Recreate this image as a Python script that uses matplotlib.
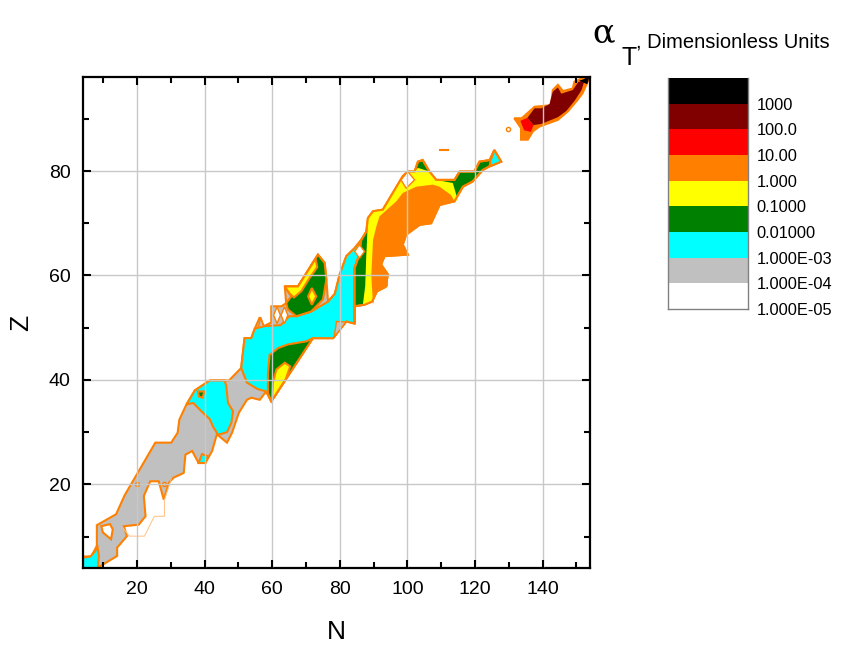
import matplotlib
matplotlib.use("Agg")
import matplotlib.pyplot as plt
import numpy as np

plt.rcParams["font.family"] = ["Liberation Sans", "DejaVu Sans"]

# --------------------------------------------------------------------
# Levels of alpha_T (colour bands, bottom -> top)
# --------------------------------------------------------------------
level_labels = ["1.000E-05", "1.000E-04", "1.000E-03", "0.01000", "0.1000",
                "1.000", "10.00", "100.0", "1000"]
band_colors = ["#ffffff", "#c0c0c0", "#00ffff", "#008000", "#ffff00",
               "#ff8000", "#ff0000", "#800000", "#000000"]
LINE = "#ff8000"

# --------------------------------------------------------------------
# Contour regions, (N, Z) vertices
# --------------------------------------------------------------------
band_lower = [(4.0, 4.0), (8.7, 4.2), (14.1, 6.3), (14.1, 7.9), (17.0, 10.1), (16.1, 12.0),
              (20.5, 12.3), (22.5, 13.9), (22.0, 17.8), (23.9, 20.6), (26.4, 20.6), (27.9, 17.1),
              (29.4, 20.3), (30.8, 21.3), (33.8, 22.2), (34.3, 25.7), (36.3, 26.4), (38.2, 24.1),
              (40.2, 24.1), (42.2, 26.4), (43.6, 29.6), (46.6, 28.0), (48.1, 29.9), (50.1, 33.7),
              (52.5, 36.2), (53.8, 36.6), (56.3, 36.2), (58.2, 37.8), (59.7, 35.9), (72.0, 48.0),
              (78.0, 48.0), (81.9, 51.2), (84.3, 50.8), (84.3, 61.4), (86.3, 66.8), (84.3, 65.2),
              (81.9, 63.7), (79.9, 60.1), (78.5, 56.5), (76.5, 55.0), (76.0, 59.2), (75.5, 62.4),
              (73.5, 64.0), (67.6, 57.9), (63.7, 57.9), (64.1, 54.7), (62.7, 54.1), (59.7, 54.1),
              (59.7, 51.0), (57.5, 50.3), (56.3, 52.0), (54.8, 49.8), (53.8, 48.0), (51.8, 48.0),
              (50.8, 42.3), (47.2, 39.9), (41.5, 39.9), (37.1, 38.0), (34.6, 35.3), (32.5, 32.4),
              (32.0, 29.9), (30.1, 28.0), (25.4, 28.0), (16.3, 17.9), (13.8, 14.3), (8.1, 12.2),
              (8.1, 8.2), (6.4, 6.2), (4.0, 6.2)]
hole_low = [(9.4, 12.0), (12.0, 12.4), (12.8, 11.4), (12.3, 9.5), (9.9, 10.8)]

cyan_corner = [(4.0, 4.0), (4.0, 6.0), (6.2, 6.2), (7.7, 7.3), (8.2, 8.4), (8.7, 6.3), (8.4, 4.0)]
cyan_spot = [(38.2, 24.1), (40.2, 24.1), (41.0, 25.4), (39.2, 25.8)]
cyan_blob = [(34.6, 35.3), (37.1, 38.0), (41.5, 39.9), (45.9, 39.9), (46.4, 38.8), (46.9, 35.6),
             (48.4, 34.0), (47.9, 31.8), (46.6, 30.0), (44.0, 29.5), (42.5, 31.0), (41.5, 32.5),
             (39.5, 33.7), (36.6, 35.6)]
cyan_main = [(50.8, 42.3), (51.8, 48.0), (53.8, 48.0), (54.8, 49.8), (57.5, 50.3), (62.5, 50.5),
             (65.0, 52.2), (67.1, 52.2), (71.5, 53.1), (76.5, 55.0), (78.5, 56.5), (79.9, 60.1),
             (81.9, 63.7), (84.3, 65.2), (86.3, 66.8), (85.5, 63.5), (84.3, 61.4), (84.3, 50.8),
             (81.9, 51.2), (78.0, 48.0), (72.0, 48.0), (59.7, 35.9), (58.2, 37.8), (55.5, 38.3),
             (52.5, 39.5)]
gray_bits = [[(55.9, 50.1), (56.6, 52.0), (57.4, 50.2)],
             [(78.3, 48.2), (81.8, 51.1), (79.0, 51.2)]]
white_bits = [[(60.4, 52.4), (61.4, 54.0), (62.4, 52.4), (61.4, 50.8)],
              [(62.6, 52.4), (63.6, 54.0), (64.6, 52.4), (63.6, 50.8)]]

green_dot = [(38.0, 37.8), (40.0, 37.8), (39.3, 36.6), (38.3, 36.8)]
green_cres_low = [(58.7, 37.5), (58.7, 41.3), (59.2, 44.8), (61.7, 46.1), (64.6, 46.8),
                  (70.1, 47.4), (72.0, 48.0), (59.7, 35.9)]
yellow_cres_low = [(59.9, 36.1), (60.2, 39.5), (61.2, 42.0), (63.7, 43.3), (65.3, 42.6), (64.0, 40.2)]
green_cres_up = [(63.7, 57.9), (67.6, 57.9), (73.5, 64.0), (75.5, 62.4), (76.0, 59.2), (75.0, 55.4),
                 (71.5, 53.1), (67.1, 52.2), (64.6, 53.5), (64.1, 54.7), (65.6, 56.0)]
yellow_wing = [(63.7, 57.9), (67.6, 57.9), (72.8, 63.2), (73.3, 61.6), (71.0, 59.5), (68.6, 57.0),
               (66.4, 55.8), (65.2, 56.5)]
yellow_diamond = [(70.6, 56.0), (71.7, 57.6), (73.0, 56.0), (71.7, 54.4)]

green_band = [(84.3, 50.8), (84.3, 54.1), (87.3, 54.4), (89.5, 55.0), (91.0, 57.0), (93.5, 57.8),
              (94.2, 60.2), (92.2, 62.1), (93.2, 63.7), (100.1, 64.0), (98.6, 65.9), (99.6, 67.8),
              (103.6, 69.7), (107.0, 70.0), (109.5, 73.5), (113.9, 74.2), (116.4, 77.0),
              (119.3, 78.0), (122.3, 80.2), (124.3, 80.9), (127.7, 81.8), (125.7, 84.0),
              (124.3, 82.1), (121.3, 81.8), (119.8, 79.9), (115.4, 79.9), (113.9, 78.3),
              (108.5, 78.3), (106.5, 79.9), (104.5, 82.1), (103.1, 81.8), (102.1, 79.9),
              (100.1, 79.9), (98.6, 79.0), (92.7, 72.6), (89.8, 72.3), (88.3, 71.0), (87.8, 68.4),
              (86.3, 66.8), (85.5, 63.5), (84.3, 61.4)]
yellow_band = [(86.8, 54.4), (87.5, 58.0), (87.8, 63.7), (88.0, 66.2), (88.3, 71.0), (89.8, 72.3),
               (92.7, 72.6), (98.6, 79.0), (100.1, 79.9), (102.1, 79.9), (103.1, 80.6),
               (106.5, 79.9), (108.5, 78.3), (113.4, 77.7), (114.9, 74.4), (113.9, 74.2),
               (109.5, 73.5), (107.0, 70.0), (103.6, 69.7), (99.6, 67.8), (98.6, 65.9),
               (100.1, 64.0), (93.2, 63.7), (92.2, 62.1), (94.2, 60.2), (93.5, 57.8), (91.0, 57.0),
               (89.5, 55.0)]
orange_core = [(89.8, 54.4), (90.5, 56.5), (92.7, 57.6), (94.2, 57.9), (94.2, 60.2), (92.2, 62.1),
               (93.2, 63.7), (100.1, 64.0), (98.6, 65.9), (99.6, 67.8), (103.6, 69.7), (107.0, 70.0),
               (109.5, 73.5), (113.9, 74.2), (112.9, 75.4), (109.5, 77.0), (107.5, 77.4),
               (102.6, 77.0), (98.6, 75.8), (96.7, 74.2), (91.7, 71.3), (90.8, 69.4), (89.8, 66.8),
               (89.3, 60.0)]
cyan_tip = [(124.3, 80.9), (127.7, 81.8), (125.7, 84.0), (124.6, 82.0)]
white_up = [[(98.1, 78.3), (100.1, 79.9), (102.1, 78.3), (99.6, 76.7)],
            [(84.4, 64.6), (85.8, 65.9), (87.3, 64.6), (85.8, 63.3)]]

orange_island = [(131.6, 90.1), (133.8, 90.1), (137.6, 92.3), (142.5, 92.6), (143.0, 95.5),
                 (144.5, 96.5), (146.0, 95.3), (148.9, 95.8), (149.4, 97.1), (151.8, 97.8),
                 (153.3, 98.4), (154.0, 98.4), (153.8, 97.8), (151.8, 94.9), (149.9, 93.3),
                 (147.4, 91.4), (144.5, 89.8), (139.0, 88.5), (137.1, 87.6), (135.6, 86.0),
                 (133.6, 86.0), (133.6, 88.2)]
red_patch = [(133.4, 89.6), (135.5, 90.2), (137.3, 88.8), (136.5, 87.5), (134.5, 87.8)]
darkred_patch = [(135.5, 90.2), (137.6, 92.0), (139.5, 92.0), (142.0, 92.8), (143.0, 95.2),
                 (144.5, 96.0), (145.5, 94.8), (148.9, 95.5), (150.5, 97.0), (152.5, 97.6),
                 (151.5, 95.5), (149.5, 93.5), (147.0, 91.5), (144.5, 90.3), (139.5, 89.0),
                 (137.3, 88.8)]
black_patch = [(150.8, 97.3), (152.3, 97.6), (153.5, 98.4), (154.0, 98.4), (153.2, 96.6)]

faint_line = [(30.1, 21.0), (28.1, 17.1), (28.1, 13.9), (25.1, 13.9), (22.2, 10.1), (17.7, 10.1),
              (15.8, 11.7)]
dot_N = [19.9, 28.1, 129.7]
dot_Z = [20.0, 20.0, 88.1]
dash_N = [109.5, 112.0]
dash_Z = [84.0, 84.0]

# --------------------------------------------------------------------
# Figure
# --------------------------------------------------------------------
fig = plt.figure(figsize=(8.45, 6.54), dpi=100)
ax = fig.add_axes([83 / 845, 1 - 568 / 654, 507 / 845, 491 / 654])


def region(pts, color, lw=1.5):
    n, z = zip(*pts)
    ax.fill(n, z, facecolor=color, edgecolor=LINE, linewidth=lw, zorder=2)


GRAY, CYAN, GREEN, YELLOW, ORANGE = band_colors[1:6]
region(band_lower, GRAY)
region(hole_low, "white")
region(cyan_corner, CYAN)
region(cyan_spot, CYAN)
region(cyan_blob, CYAN)
region(cyan_main, CYAN)
for p in gray_bits:
    region(p, GRAY, 1.0)
for p in white_bits:
    region(p, "white", 1.0)
region(green_dot, GREEN)
region(green_cres_low, GREEN)
region(yellow_cres_low, YELLOW)
region(green_cres_up, GREEN)
region(yellow_wing, YELLOW)
region(yellow_diamond, YELLOW)
region(green_band, GREEN)
region(yellow_band, YELLOW, 0)
region(orange_core, ORANGE, 0)
# redraw the outline of the upper band over the inner fills
gn, gz = zip(*green_band)
ax.fill(gn, gz, facecolor="none", edgecolor=LINE, linewidth=1.5, zorder=2)
region(cyan_tip, CYAN)
for p in white_up:
    region(p, "white", 1.0)
region(orange_island, ORANGE)
region(red_patch, band_colors[6], 0)
region(darkred_patch, band_colors[7], 0)
region(black_patch, band_colors[8], 0)

fn, fz = zip(*faint_line)
ax.plot(fn, fz, color="#ffc080", lw=0.7, zorder=2)
ax.plot(dot_N, dot_Z, "o", ms=3, mfc="none", mec=LINE, mew=1, zorder=2)
ax.plot(dash_N, dash_Z, color=LINE, lw=1.5, zorder=2)

ax.set_xlim(4, 154)
ax.set_ylim(4, 98)
ax.set_xticks(np.arange(20, 141, 20))
ax.set_yticks(np.arange(20, 81, 20))
ax.set_xticks(np.arange(10, 151, 10), minor=True)
ax.set_yticks(np.arange(10, 91, 10), minor=True)
ax.tick_params(which="both", direction="in", top=True, right=True, width=1.5, labelsize=14)
ax.tick_params(which="major", length=6, pad=9)
ax.tick_params(which="minor", length=4)
for s in ax.spines.values():
    s.set_linewidth(1.6)
ax.grid(True, which="major", color="#c8c8c8", lw=1.0, zorder=3)
ax.set_axisbelow(False)

ax.set_xlabel("N", fontsize=19, labelpad=16)
ax.set_ylabel("Z", fontsize=19, labelpad=11)

# --------------------------------------------------------------------
# Colour scale
# --------------------------------------------------------------------
cax = fig.add_axes([668 / 845, 1 - 309 / 654, 80 / 845, 231 / 654])
cax.pcolormesh([0, 1], np.arange(len(band_colors) + 1),
               np.arange(len(band_colors)).reshape(-1, 1),
               cmap=matplotlib.colors.ListedColormap(band_colors), shading="flat")
cax.set_xlim(0, 1)
cax.set_ylim(0, len(band_colors))
cax.set_xticks([])
cax.yaxis.tick_right()
cax.set_yticks(np.arange(len(level_labels)))
cax.set_yticklabels(level_labels)
cax.tick_params(axis="y", length=0, pad=6, labelsize=11.8)
for s in cax.spines.values():
    s.set_color("#808080")
    s.set_linewidth(1.0)
cax.spines["top"].set_visible(False)

fig.text(592 / 845, 1 - 42 / 654, "α", family="DejaVu Serif", fontsize=24)
fig.text(622 / 845, 1 - 65 / 654, "T", fontsize=18)
fig.text(636 / 845, 1 - 48 / 654, ", Dimensionless Units", fontsize=14.5)

fig.savefig("out.png", dpi=100)
